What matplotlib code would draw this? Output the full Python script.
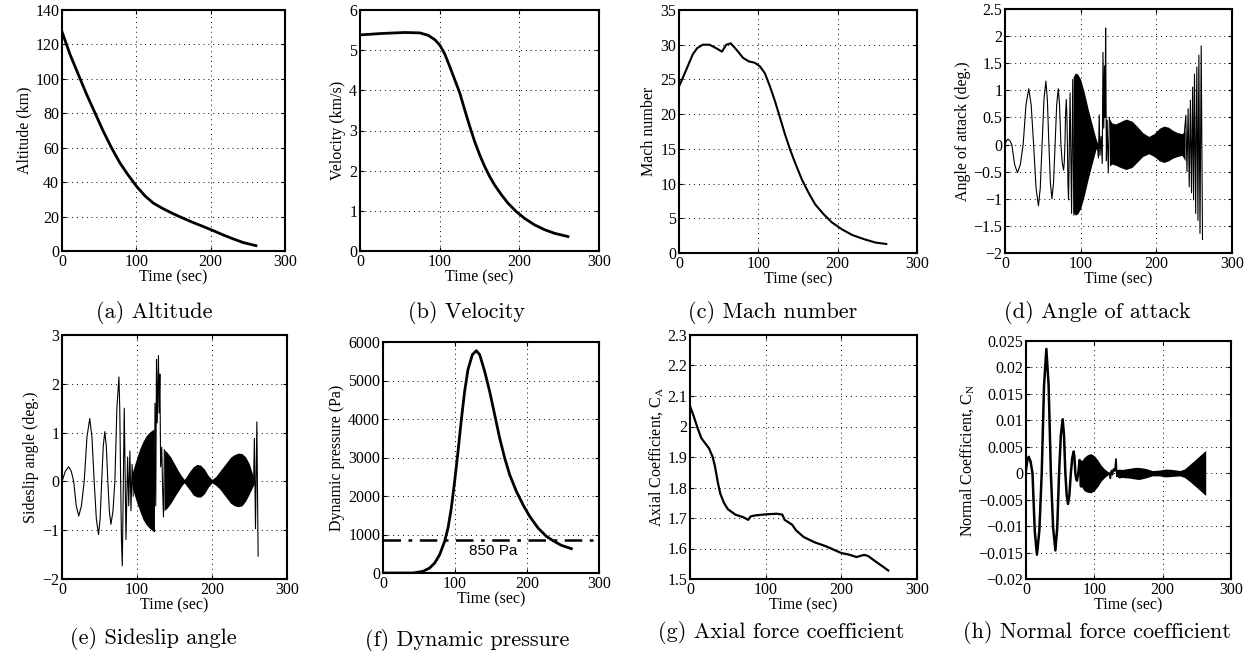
import matplotlib
matplotlib.use('Agg')
import matplotlib.pyplot as plt
from matplotlib.ticker import FuncFormatter

plt.rcParams['font.family'] = 'serif'
plt.rcParams['font.serif'] = ['Liberation Serif', 'DejaVu Serif']
plt.rcParams['mathtext.fontset'] = 'stix'

# ---- data ----
alt_t = [0, 10.8, 22, 33.2, 44.4, 55.6, 66.8, 78, 89.2, 100.4, 111.7, 122.9, 136.3, 149.8,
         163.2, 176.7, 190.1, 203.6, 217, 230.5, 243.9, 261]
alt_km = [127.4, 114.2, 102.5, 90.9, 80.2, 69.5, 59.8, 51.1, 44.0, 37.5, 32.0, 27.8, 24.5, 21.6,
          19.0, 16.5, 14.2, 11.8, 9.3, 7.0, 4.9, 3.1]

vel_t = [0, 27, 56, 75, 85.6, 94, 100.4, 106.5, 112.7, 119, 125.3, 131.5, 137.8, 144, 150.3,
         156.6, 162.9, 169.1, 177.5, 185.8, 196.2, 206.7, 219.2, 231.7, 244.3, 261]
vel_kms = [5.38, 5.415, 5.44, 5.43, 5.37, 5.26, 5.12, 4.90, 4.59, 4.26, 3.93, 3.51, 3.10, 2.72,
           2.39, 2.10, 1.85, 1.64, 1.40, 1.19, 0.98, 0.81, 0.65, 0.53, 0.44, 0.36]

mach_t = [0, 4.7, 11, 17.3, 22.8, 30, 38.5, 46.9, 54.1, 59.6, 65.1, 72.3, 80.8, 88, 95.5, 101.9,
          108.2, 114.6, 120.9, 127.3, 133.6, 140, 146.3, 154.8, 163.2, 171.7, 182.2, 192.8,
          205.5, 218.2, 233, 247.8, 261.3]
mach = [24.0, 25.2, 26.9, 28.6, 29.5, 30.0, 30.0, 29.5, 29.0, 30.0, 30.2, 29.3, 28.1, 27.6, 27.4,
        26.9, 25.9, 24.0, 21.9, 19.5, 17.1, 14.9, 13.0, 10.6, 8.7, 7.0, 5.6, 4.4, 3.4, 2.6, 2.0,
        1.5, 1.3]

# angle of attack: slow swings, dense bands (envelopes), spikes
aoa_t1 = [0, 2, 4, 6.5, 9, 12.7, 16.5, 20.2, 24, 27.7, 31.4, 34.6, 37.8, 41, 44.2, 46.6, 49,
          51.5, 54, 56, 58, 60, 62, 64.1, 66.2, 68.3, 70.4, 72.1, 73.9, 75.6, 77.4, 78.3, 79.2,
          80.1, 81, 81.7, 82.5, 83.2, 84, 86, 88, 89.5, 91]
aoa_1 = [0, 0.07, 0.1, 0.07, 0, -0.37, -0.52, -0.37, 0, 0.73, 1.03, 0.73, 0, -0.8, -1.13, -0.8, 0,
         0.83, 1.17, 0.83, 0, -0.71, -1.0, -0.71, 0, 0.73, 1.03, 0.73, 0, -0.33, -0.47, -0.33, 0,
         0.59, 0.83, 0.59, 0, -0.72, -1.02, 0.95, -1.27, 1.2, -1.3]
aoa_bt1 = [90, 93, 96, 100, 105, 110, 115, 120, 123]
aoa_hi1 = [1.25, 1.32, 1.3, 1.2, 0.95, 0.65, 0.38, 0.12, 0.0]
aoa_lo1 = [-1.25, -1.3, -1.28, -1.18, -0.93, -0.63, -0.36, -0.1, 0.0]
aoa_t2 = [122, 123.5, 124.5, 125.5, 127, 128.5, 129.5, 130.5, 131.5, 132.3, 133, 134, 135, 136.5, 138]
aoa_2 = [0, -0.25, 0.55, -0.2, 0.15, -0.35, 1.7, 0.3, 1.45, 0.5, 2.15, -0.3, 0.45, -0.52, 0.5]
aoa_bt2 = [138, 141, 146, 152, 160, 168, 175, 182, 190, 197, 204, 210, 216, 222, 228, 234, 238]
aoa_hi2 = [0.48, 0.4, 0.38, 0.42, 0.47, 0.43, 0.33, 0.22, 0.15, 0.2, 0.3, 0.34, 0.32, 0.26, 0.22, 0.2, 0.25]
aoa_lo2 = [-0.4, -0.36, -0.38, -0.42, -0.46, -0.42, -0.32, -0.22, -0.17, -0.22, -0.3, -0.33, -0.3, -0.25, -0.22, -0.2, -0.3]
aoa_t3 = [237, 239, 240.5, 242, 243.5, 245, 246.5, 248, 249.2, 250.4, 252, 253.5, 255, 256.2, 257.7, 259.3, 261]
aoa_3 = [0.2, 0.54, -0.5, 0.66, -0.78, 0.82, -0.89, 1.06, -1.02, 1.3, -1.27, 1.43, -1.4, 1.65, -1.64, 1.82, -1.75]

# sideslip angle
ss_t1 = [0, 4.5, 8.9, 12.3, 15.6, 19, 22.3, 25.9, 29.6, 33.3, 37, 39.9, 42.9, 45.8, 48.7, 50.8,
         52.9, 55, 57.1, 59.1, 61.1, 63.2, 65.2, 67.9, 70.5, 73.2, 75.9, 77, 78.2, 79.3, 80.4,
         83, 85.3, 87.5, 89, 90.5, 92, 93.5, 95]
ss_1 = [0, 0.21, 0.3, 0.21, 0, -0.5, -0.71, -0.5, 0, 0.91, 1.29, 0.91, 0, -0.77, -1.09, -0.77,
        0, 0.72, 1.02, 0.72, 0, -0.62, -0.88, -0.62, 0, 1.51, 2.14, 1.5, 0, -1.22, -1.73,
        1.5, -1.19, 0.5, -0.5, 0.62, -0.6, 0.35, -0.3]
ss_bt1 = [94, 97, 100, 104, 108, 112, 116, 120, 123]
ss_hi1 = [0.2, 0.35, 0.5, 0.68, 0.82, 0.93, 1.0, 1.05, 1.07]
ss_lo1 = [-0.15, -0.3, -0.45, -0.62, -0.78, -0.88, -0.95, -1.0, -1.03]
ss_t2 = [123, 124, 125, 126, 127, 128.6, 129.5, 130.5, 131.5, 133, 134.2, 135.3, 136.5]
ss_2 = [-1.03, 1.6, -0.5, 2.5, 1.2, 2.58, 1.4, 2.2, 0.3, 0.7, -0.2, -0.73, 0.65]
ss_bt2 = [136, 140, 145, 150, 155, 160, 163, 165, 170, 175, 180, 185, 190, 195, 200, 205, 210,
          215, 220, 225, 230, 235, 240, 245, 250, 254, 256.5]
ss_hi2 = [0.65, 0.6, 0.5, 0.36, 0.22, 0.1, 0.04, 0.08, 0.2, 0.3, 0.35, 0.33, 0.25, 0.12, 0.04,
          0.1, 0.2, 0.3, 0.4, 0.5, 0.55, 0.58, 0.57, 0.5, 0.35, 0.15, 0.05]
ss_lo2 = [-0.6, -0.55, -0.45, -0.32, -0.2, -0.08, -0.03, -0.07, -0.17, -0.28, -0.32, -0.32, -0.25,
          -0.12, -0.03, -0.08, -0.15, -0.25, -0.35, -0.45, -0.5, -0.52, -0.5, -0.4, -0.25, -0.12, -0.05]
ss_t3 = [255.5, 256.5, 258, 259.8, 261.5]
ss_3 = [0.0, 0.88, -0.97, 1.22, -1.53]

# dynamic pressure
q_t = [0, 41.7, 55.6, 64.8, 71.8, 78.7, 85.6, 90.3, 94.9, 99.5, 104.2, 108.8, 113.4, 118, 124.1,
       129.6, 134.3, 141.2, 148.1, 155.1, 162, 169, 175.9, 185.2, 194.4, 203.7, 215.3, 226.9,
       236.1, 247.7, 261.6]
q_pa = [0, 0, 43, 130, 260, 476, 822, 1169, 1688, 2381, 3160, 3983, 4719, 5281, 5671, 5775, 5671,
        5238, 4719, 4113, 3506, 2987, 2554, 2121, 1775, 1472, 1169, 952, 840, 719, 632]
q_limit = 850

# axial coefficient
ca_t = [0, 5, 10, 15, 20, 25, 30, 33, 37, 40, 45, 50, 60, 70, 77, 80, 85, 100, 115, 122, 125,
        135, 140, 150, 165, 180, 200, 210, 220, 230, 235, 245, 262]
ca = [2.067, 2.033, 1.995, 1.962, 1.945, 1.929, 1.90, 1.869, 1.814, 1.78, 1.749, 1.729, 1.711,
      1.703, 1.694, 1.705, 1.708, 1.712, 1.714, 1.711, 1.694, 1.678, 1.66, 1.638, 1.62, 1.607,
      1.585, 1.58, 1.572, 1.579, 1.576, 1.558, 1.528]

# normal coefficient
cn_t1 = [0, 2, 3.9, 6.7, 9.5, 12.8, 16, 19.5, 23, 26.4, 29.8, 33.1, 36.4, 39.7, 43, 45.7, 48.4,
         51, 53.7, 55.6, 57.6, 59.5, 61.5, 63.5, 65.6, 67.7, 69.8, 71, 72.2, 73.4, 74.6, 76.5,
         78.5, 79.5, 80.5, 81.5, 82.5]
cn_1 = [0.0006, 0.0025, 0.0031, 0.0022, 0, -0.0109, -0.0154, -0.0109, 0, 0.0166, 0.0235, 0.0166,
        0, -0.0103, -0.0146, -0.0103, 0, 0.0072, 0.0102, 0.0072, 0, -0.0041, -0.0058, -0.0041, 0,
        0.0029, 0.0041, 0.0029, 0, -0.001, -0.0014, 0, 0.0025, 0, -0.0025, 0.0022, -0.002]
cn_bt1 = [81, 85, 90, 95, 100, 105, 110, 115, 120, 122]
cn_hi1 = [0.0022, 0.003, 0.0035, 0.0037, 0.0033, 0.0025, 0.0015, 0.0008, 0.0003, 0.0001]
cn_lo1 = [-0.0025, -0.0033, -0.0036, -0.0037, -0.0033, -0.0025, -0.0015, -0.0008, -0.0003, -0.0001]
cn_t2 = [122, 123.4, 125, 126.5, 128, 130, 131.7, 133, 134.5]
cn_2 = [0, -0.001, 0.0005, -0.0003, 0.0008, 0.0004, 0.0027, -0.0006, 0.0004]
cn_bt2 = [133, 136, 140, 150, 160, 165, 175, 185, 195, 205, 215, 225, 232, 240, 248, 255, 260, 263]
cn_hi2 = [0.0006, 0.0008, 0.0007, 0.0009, 0.0011, 0.0011, 0.0009, 0.0005, 0.0006, 0.0008, 0.0007,
          0.0005, 0.0008, 0.0017, 0.0026, 0.0034, 0.004, 0.0043]
cn_lo2 = [-0.0006, -0.0009, -0.0008, -0.0009, -0.0011, -0.0012, -0.0009, -0.0005, -0.0005,
          -0.0007, -0.0006, -0.0005, -0.0008, -0.0016, -0.0025, -0.0033, -0.0039, -0.0042]

captions = ['(a) Altitude', '(b) Velocity', '(c) Mach number', '(d) Angle of attack',
            '(e) Sideslip angle', '(f) Dynamic pressure', '(g) Axial force coefficient',
            '(h) Normal force coefficient']

W, H = 1247, 651
fig = plt.figure(figsize=(W / 100, H / 100), dpi=100)


def make_ax(l, t, r, b):
    return fig.add_axes([l / W, 1 - b / H, (r - l) / W, (b - t) / H])


fmt = FuncFormatter(lambda v, p: ('%g' % round(v, 6)).replace('-', '\u2212'))


def style(ax, ylim, ystep, ylabel):
    ax.set_xlim(0, 300)
    ax.set_ylim(*ylim)
    ax.set_xticks([0, 100, 200, 300])
    n = int(round((ylim[1] - ylim[0]) / ystep))
    ax.set_yticks([ylim[0] + i * ystep for i in range(n + 1)])
    ax.xaxis.set_major_formatter(fmt)
    ax.yaxis.set_major_formatter(fmt)
    ax.grid(True, color='k', linestyle=(0, (1, 4)), linewidth=0.7)
    ax.tick_params(direction='in', top=True, right=True, length=3, labelsize=11.5, pad=2)
    for s in ax.spines.values():
        s.set_linewidth(1.5)
    ax.set_xlabel('Time (sec)', fontsize=11.5, labelpad=0)
    ax.set_ylabel(ylabel, fontsize=11.5, labelpad=2)


ax = make_ax(62, 10, 285, 251)
ax.plot(alt_t, alt_km, 'k-', lw=2.0)
style(ax, (0, 140), 20, 'Altitude (km)')

ax = make_ax(360, 10, 599, 251)
ax.plot(vel_t, vel_kms, 'k-', lw=2.0)
style(ax, (0, 6), 1, 'Velocity (km/s)')

ax = make_ax(679, 10, 917, 253)
ax.plot(mach_t, mach, 'k-', lw=1.5)
style(ax, (0, 35), 5, 'Mach number')

ax = make_ax(1005, 9, 1232, 253)
ax.plot(aoa_t1, aoa_1, 'k-', lw=0.8)
ax.fill_between(aoa_bt1, aoa_lo1, aoa_hi1, color='k', lw=0)
ax.plot(aoa_t2, aoa_2, 'k-', lw=0.8)
ax.fill_between(aoa_bt2, aoa_lo2, aoa_hi2, color='k', lw=0)
ax.plot(aoa_t3, aoa_3, 'k-', lw=0.8)
style(ax, (-2, 2.5), 0.5, 'Angle of attack (deg.)')

ax = make_ax(62, 335, 287, 579)
ax.plot(ss_t1, ss_1, 'k-', lw=0.8)
ax.fill_between(ss_bt1, ss_lo1, ss_hi1, color='k', lw=0)
ax.plot(ss_t2, ss_2, 'k-', lw=0.8)
ax.fill_between(ss_bt2, ss_lo2, ss_hi2, color='k', lw=0)
ax.plot(ss_t3, ss_3, 'k-', lw=0.8)
style(ax, (-2, 3), 1, 'Sideslip angle (deg.)')

ax = make_ax(383, 342, 599, 573)
ax.plot(q_t, q_pa, 'k-', lw=2.0)
ax.axhline(q_limit, color='k', lw=1.8, linestyle=(0, (7, 3, 1.5, 3)))
ax.text(153, 580, '%d Pa' % q_limit, ha='center', va='center', fontsize=11, family='Liberation Sans')
style(ax, (0, 6000), 1000, 'Dynamic pressure (Pa)')

ax = make_ax(690, 335, 917, 579)
ax.plot(ca_t, ca, 'k-', lw=1.6)
style(ax, (1.5, 2.3), 0.1, r'Axial Coefficient, C$_{\rm A}$')

ax = make_ax(1026, 341, 1231, 579)
ax.plot(cn_t1, cn_1, 'k-', lw=1.8)
ax.fill_between(cn_bt1, cn_lo1, cn_hi1, color='k', lw=0)
ax.plot(cn_t2, cn_2, 'k-', lw=1.2)
ax.fill_between(cn_bt2, cn_lo2, cn_hi2, color='k', lw=0)
style(ax, (-0.02, 0.025), 0.005, r'Normal Coefficient, C$_{\rm N}$')

cap_x = [154, 466, 773, 1097, 153, 467, 781, 1097]
cap_y = [313, 313, 313, 313, 638, 640, 632, 632]
for c, x, y in zip(captions, cap_x, cap_y):
    fig.text(x / W, 1 - y / H, c, ha='center', va='center', fontsize=16, family='cmr10')

fig.savefig('out.png', dpi=100)
